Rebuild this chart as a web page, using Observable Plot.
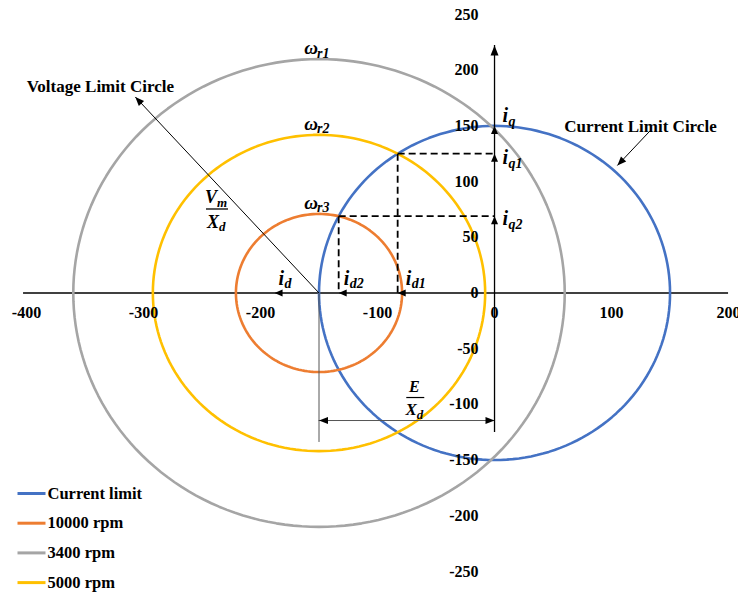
<!DOCTYPE html>
<html>
<head>
<meta charset="utf-8">
<script src="https://cdn.jsdelivr.net/npm/d3@7"></script>
<script src="https://cdn.jsdelivr.net/npm/@observablehq/plot@0.6"></script>
<style>
  body { margin: 0; background: #fff; }
  #chart { width: 738px; height: 592px; }
</style>
</head>
<body>
<div id="chart"></div>
<script>
// Current-limit circle and speed-dependent voltage-limit circles in the d–q current plane
const seriesNames  = ["Current limit", "10000 rpm", "3400 rpm", "5000 rpm"];
const seriesColors = ["#4472C4", "#ED7D31", "#A5A5A5", "#FFC000"];
const centerD      = [0, -150, -150, -150];   // circle centres on the d-axis
const radii        = [150, 71, 210, 142];

// ω labels: subscript and the circle it names
const omegaSubs    = ["r1", "r2", "r3"];
const omegaSeries  = ["3400 rpm", "5000 rpm", "10000 rpm"];

const xTicks = [-400, -300, -200, -100, 0, 100, 200];
const yTicks = [250, 200, 150, 100, 50, 0, -50, -100, -150, -200, -250];

// annotation geometry (d, q values)
const dAxisExtent     = [-402.5, 200];
const qAxisExtent     = [-125.3, 222.2];
const idArrowD        = -188;
const voltagePointer  = [-150, 0, -307, 176];     // d1, q1, d2, q2 (head at d2, q2)
const currentPointer  = [133.3, 146, 105, 114.5];
const dimensionQ      = -114.5;
const dimensionDrop   = -134.2;

// ---------------------------------------------------------------------------
const W = 738, H = 592;
const xDomain = [-422.2, 208.5];
const yDomain = [-268.9, 262.6];
const sx = d3.scaleLinear(xDomain, [0, W]);
const sy = d3.scaleLinear(yDomain, [H, 0]);

const byName = Object.fromEntries(seriesNames.map((n, i) => [n, i]));
const R = radii[byName["Current limit"]];
const C = centerD[byName["5000 rpm"]];

// circle outlines
const circlePts = seriesNames.flatMap((name, i) =>
  d3.range(0, 361, 2).map(a => ({
    name,
    x: centerD[i] + radii[i] * Math.cos(a * Math.PI / 180),
    y: radii[i] * Math.sin(a * Math.PI / 180)
  })));

// intersection of the current-limit circle with a voltage-limit circle (upper half)
function operatingPoint(r) {
  const x = (C * C + R * R - r * r) / (2 * C);
  return {x, y: Math.sqrt(R * R - x * x)};
}
const p1 = operatingPoint(radii[byName["5000 rpm"]]);
const p2 = operatingPoint(radii[byName["10000 rpm"]]);

// filled triangular arrowhead, tip at the point, pointing along `angle` (screen radians)
function headSymbol(angle, L = 9, Wd = 3.6) {
  const c = Math.cos(angle), s = Math.sin(angle);
  return {draw(ctx) {
    ctx.moveTo(0, 0);
    ctx.lineTo(-L * c - Wd * s, -L * s + Wd * c);
    ctx.lineTo(-L * c + Wd * s, -L * s - Wd * c);
    ctx.closePath();
  }};
}
const hbar = (w) => ({draw(ctx) { ctx.moveTo(-w, 0); ctx.lineTo(w, 0); }});
const swatch = {draw(ctx) { ctx.moveTo(0, 0); ctx.lineTo(28, 0); }};

const heads = (pts, angle, L, Wd) =>
  Plot.dot(pts, {x: "x", y: "y", r: 5, symbol: headSymbol(angle, L, Wd), fill: "black", stroke: "none"});
const pointerAngle = ([x1, y1, x2, y2]) => Math.atan2(sy(y2) - sy(y1), sx(x2) - sx(x1));

const FONT = "Liberation Serif";
const txt = {fontFamily: FONT, fontWeight: "bold", fill: "black", lineAnchor: "middle"};
const mathTxt = {...txt, fontStyle: "italic"};

// symbol with subscript, anchored at (x, y)
function mathLabel(pts, main, sub, o) {
  return [
    Plot.text(pts, {x: "x", y: "y", text: () => main, ...mathTxt, fontSize: o.size ?? 20,
      textAnchor: o.anchor ?? "start", dx: o.dx, dy: o.dy}),
    Plot.text(pts, {x: "x", y: "y", text: () => sub, ...mathTxt, fontSize: o.subSize ?? 14,
      textAnchor: "start", dx: o.subDx, dy: o.subDy})
  ];
}

const qLabels = [
  {x: 0, y: R,    sub: "q",  dy: -10, subDy: -4},
  {x: 0, y: p1.y, sub: "q1", dy: 4,   subDy: 10},
  {x: 0, y: p2.y, sub: "q2", dy: 2,   subDy: 8}
];
const dLabels = [
  {x: idArrowD, y: 0, sub: "d",  dx: 4},
  {x: p2.x,     y: 0, sub: "d2", dx: 5},
  {x: p1.x,     y: 0, sub: "d1", dx: 8}
];
const omegaPts = omegaSeries.map((s, k) => ({x: centerD[byName[s]], y: radii[byName[s]], sub: omegaSubs[k]}));

const center = [{x: C, y: 0}];
const dimMid = [{x: C / 2, y: dimensionQ}];

const marks = [
  // d-axis
  Plot.ruleY([0], {x1: dAxisExtent[0], x2: dAxisExtent[1], stroke: "black", strokeWidth: 1.3}),

  // circles
  Plot.line(circlePts, {x: "x", y: "y", z: "name", stroke: "name", strokeWidth: 2.6}),

  // operating-point projections
  ...[p1, p2].flatMap(p => [
    Plot.link([p], {x1: "x", y1: "y", x2: 0, y2: "y", stroke: "black", strokeWidth: 1.8, strokeDasharray: "7,4"}),
    Plot.link([p], {x1: "x", y1: "y", x2: "x", y2: 0, stroke: "black", strokeWidth: 1.8, strokeDasharray: "7,4"})
  ]),

  // q-axis
  Plot.ruleX([0], {y1: qAxisExtent[0], y2: qAxisExtent[1], stroke: "black", strokeWidth: 1.3}),
  heads([{x: 0, y: qAxisExtent[1]}], -Math.PI / 2, 10, 4),

  // E / X_d dimension
  Plot.ruleX([C], {y1: 0, y2: dimensionDrop, stroke: "#555", strokeWidth: 1}),
  Plot.ruleY([dimensionQ], {x1: C, x2: 0, stroke: "#555", strokeWidth: 1}),
  heads([{x: C, y: dimensionQ}], Math.PI, 9, 3.6),
  heads([{x: 0, y: dimensionQ}], 0, 9, 3.6),

  // pointers
  Plot.link([voltagePointer], {x1: d => d[0], y1: d => d[1], x2: d => d[2], y2: d => d[3], stroke: "black", strokeWidth: 1}),
  heads([{x: voltagePointer[2], y: voltagePointer[3]}], pointerAngle(voltagePointer), 9, 3.6),
  Plot.link([currentPointer], {x1: d => d[0], y1: d => d[1], x2: d => d[2], y2: d => d[3], stroke: "black", strokeWidth: 1}),
  heads([{x: currentPointer[2], y: currentPointer[3]}], pointerAngle(currentPointer), 9, 3.6),

  // current-vector arrowheads
  heads(qLabels, -Math.PI / 2, 8, 3.5),
  heads(dLabels, Math.PI, 8, 3.5),

  // tick labels
  Plot.text(xTicks, {x: d => d, y: 0, text: d => String(d), ...txt, fontSize: 16, dy: 20}),
  Plot.text(yTicks, {x: 0, y: d => d, text: d => String(d), ...txt, fontSize: 16, textAnchor: "end", dx: -16}),

  // titles of the circles
  Plot.text([{x: voltagePointer[2], y: voltagePointer[3]}], {x: "x", y: "y", text: () => "Voltage Limit Circle", ...txt, fontSize: 17, dx: -35, dy: -10}),
  Plot.text([{x: currentPointer[0], y: currentPointer[1]}], {x: "x", y: "y", text: () => "Current Limit Circle", ...txt, fontSize: 17, dx: -10, dy: -4}),

  // ω labels
  Plot.text(omegaPts, {x: "x", y: "y", text: () => "ω", ...mathTxt, fontSize: 19, dx: -8, dy: -11}),
  Plot.text(omegaPts, {x: "x", y: "y", text: "sub", ...mathTxt, fontSize: 14, textAnchor: "start", dx: -2, dy: -6})
];

// i_q, i_q1, i_q2 and i_d, i_d2, i_d1
qLabels.forEach(l => marks.push(...mathLabel([l], "i", l.sub, {dx: 8, dy: l.dy, subDx: 14, subDy: l.subDy})));
dLabels.forEach(l => marks.push(...mathLabel([l], "i", l.sub, {dx: l.dx, dy: -14, subDx: l.dx + 6, subDy: -9})));

// V_m / X_d
marks.push(
  ...mathLabel(center, "V", "m", {anchor: "middle", dx: -108, dy: -96, subDx: -102, subDy: -90, size: 18, subSize: 13}),
  Plot.dot(center, {x: "x", y: "y", r: 5, symbol: hbar(11), stroke: "black", strokeWidth: 1.3, fill: "none", dx: -102, dy: -84}),
  ...mathLabel(center, "X", "d", {anchor: "middle", dx: -106, dy: -71, subDx: -100, subDy: -66, size: 18, subSize: 13})
);
// E / X_d
marks.push(
  Plot.text(dimMid, {x: "x", y: "y", text: () => "E", ...mathTxt, fontSize: 16, dx: 7.5, dy: -34}),
  Plot.dot(dimMid, {x: "x", y: "y", r: 5, symbol: hbar(9), stroke: "black", strokeWidth: 1.2, fill: "none", dx: 8.5, dy: -23}),
  ...mathLabel(dimMid, "X", "d", {anchor: "middle", dx: 4.5, dy: -11, subDx: 10, subDy: -6, size: 17, subSize: 13})
);

// legend in the lower-left corner
seriesNames.forEach((name, i) => {
  const dy = -99 + i * 29.7;
  marks.push(
    Plot.dot([name], {frameAnchor: "bottom-left", dx: 17, dy, r: 5, symbol: swatch, stroke: seriesColors[i], strokeWidth: 3, fill: "none"}),
    Plot.text([name], {frameAnchor: "bottom-left", dx: 47, dy, text: d => d, ...txt, fontSize: 16.5, textAnchor: "start"})
  );
});

const chart = Plot.plot({
  width: W,
  height: H,
  margin: 0,
  x: {domain: xDomain, axis: null},
  y: {domain: yDomain, axis: null},
  color: {domain: seriesNames, range: seriesColors},
  style: {background: "white", overflow: "visible"},
  marks
});
document.getElementById("chart").append(chart);
</script>
</body>
</html>
